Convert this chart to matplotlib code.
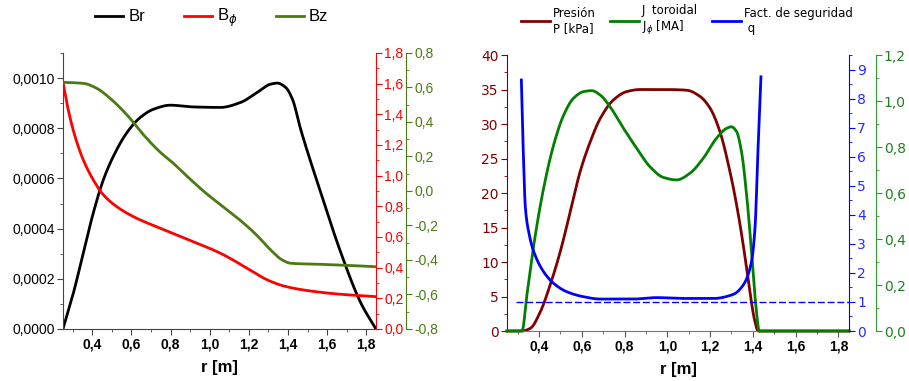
import numpy as np
import matplotlib
matplotlib.use("Agg")
import matplotlib.pyplot as plt
from matplotlib.ticker import MultipleLocator, FuncFormatter
from matplotlib.legend_handler import HandlerLine2D

# --- panel izquierdo: componentes del campo magnetico ---
r_br = [0.25, 0.303, 0.354, 0.405, 0.457, 0.508, 0.577, 0.645, 0.713, 0.799,
        0.918, 1.055, 1.158, 1.243, 1.312, 1.346, 1.388, 1.423, 1.465, 1.568,
        1.671, 1.773, 1.85]
br = [0.0, 0.000143, 0.000303, 0.000463, 0.000596, 0.000689, 0.000783, 0.000843,
      0.000876, 0.000892, 0.000885, 0.000883, 0.000903, 0.000943, 0.000976,
      0.00098, 0.000963, 0.000916, 0.000796, 0.000543, 0.000303, 0.000103, 0.0]

r_bphi = [0.25, 0.277, 0.312, 0.354, 0.405, 0.457, 0.525, 0.611, 0.747, 0.918,
          1.055, 1.192, 1.295, 1.38, 1.482, 1.654, 1.85]
bphi = [1.609, 1.428, 1.254, 1.102, 0.972, 0.874, 0.798, 0.732, 0.657, 0.569,
        0.494, 0.396, 0.320, 0.280, 0.254, 0.228, 0.211]

r_bz = [0.25, 0.354, 0.423, 0.491, 0.577, 0.662, 0.747, 0.807, 0.893, 0.979,
        1.065, 1.151, 1.236, 1.312, 1.371, 1.414, 1.568, 1.739, 1.85]
bz = [0.630, 0.624, 0.595, 0.537, 0.441, 0.325, 0.225, 0.168, 0.076, -0.011,
      -0.088, -0.165, -0.251, -0.342, -0.400, -0.419, -0.425, -0.433, -0.439]

# --- panel derecho: perfiles de plasma ---
r_p = [0.25, 0.32, 0.359, 0.406, 0.452, 0.499, 0.546, 0.592, 0.639, 0.686,
       0.748, 0.81, 0.873, 0.997, 1.09, 1.153, 1.2, 1.246, 1.293, 1.324,
       1.355, 1.386, 1.41, 1.425, 1.85]
presion = [0, 0, 0.39, 2.8, 6.7, 11.5, 17.3, 23.1, 27.4, 30.8, 33.5, 34.7, 35.0,
           35.0, 34.9, 34.0, 32.3, 28.9, 23.1, 18.3, 12.5, 5.7, 1.35, 0, 0]

r_j = [0.25, 0.32, 0.343, 0.375, 0.421, 0.468, 0.515, 0.561, 0.608, 0.647,
       0.686, 0.732, 0.795, 0.857, 0.919, 0.981, 1.044, 1.106, 1.168, 1.23,
       1.277, 1.30, 1.324, 1.347, 1.371, 1.394, 1.417, 1.43, 1.85]
j_tor = [0, 0, 0.157, 0.374, 0.62, 0.809, 0.939, 1.012, 1.041, 1.045, 1.026,
         0.975, 0.881, 0.794, 0.714, 0.668, 0.657, 0.686, 0.751, 0.838, 0.881,
         0.888, 0.867, 0.78, 0.591, 0.345, 0.084, 0, 0]

r_q = [0.317, 0.325, 0.336, 0.351, 0.375, 0.421, 0.468, 0.53, 0.608, 0.686,
       0.841, 0.95, 1.075, 1.215, 1.308, 1.355, 1.394, 1.41, 1.425, 1.438]
q = [8.64, 6.4, 4.22, 3.42, 2.73, 2.04, 1.64, 1.35, 1.18, 1.10, 1.10, 1.15,
     1.12, 1.12, 1.26, 1.58, 2.39, 3.53, 6.4, 8.75]

r_q1 = [0.29, 1.85]
q1 = [1.0, 1.0]


def suave(x, y, n=500):
    # interpolacion monotona por tramos (solo para dibujar la curva suave)
    x = np.asarray(x, float)
    y = np.asarray(y, float)
    xs = np.linspace(x[0], x[-1], n)
    h = np.diff(x)
    d = np.diff(y) / h
    m = np.zeros_like(y)
    m[0], m[-1] = d[0], d[-1]
    for i in range(1, len(y) - 1):
        if d[i - 1] * d[i] > 0:
            w1 = 2 * h[i] + h[i - 1]
            w2 = h[i] + 2 * h[i - 1]
            m[i] = (w1 + w2) / (w1 / d[i - 1] + w2 / d[i])
    k = np.clip(np.searchsorted(x, xs) - 1, 0, len(x) - 2)
    t = (xs - x[k]) / h[k]
    h00 = 2 * t**3 - 3 * t**2 + 1
    h10 = t**3 - 2 * t**2 + t
    h01 = -2 * t**3 + 3 * t**2
    h11 = t**3 - t**2
    ys = h00 * y[k] + h10 * h[k] * m[k] + h01 * y[k + 1] + h11 * h[k] * m[k + 1]
    return xs, ys


def coma(fmt):
    return FuncFormatter(lambda v, p: fmt.format(v + 0.0).replace('.', ','))


ARIAL = 'Liberation Sans'
rojo = '#ff0000'
oliva = '#4b7a12'
granate = '#800000'
verde = '#008000'
verde_eje = '#2e9a2e'
azul = '#0000ff'
PX = 72 / 100  # puntos por pixel

fig = plt.figure(figsize=(9.09, 3.81), dpi=100)

# ================= panel izquierdo =================
ax1 = fig.add_axes([0.0693, 0.1365, 0.3443, 0.7244])
ax1r = ax1.twinx()
ax1g = ax1.twinx()
ax1g.spines['right'].set_position(('outward', 30 * PX))

l_br, = ax1.plot(*suave(r_br, br), color='black', lw=2, label='Br')
l_bp, = ax1r.plot(*suave(r_bphi, bphi), color=rojo, lw=2, label=r'B$_\phi$')
l_bz, = ax1g.plot(*suave(r_bz, bz), color=oliva, lw=2, label='Bz')

ax1.set_xlim(0.25, 1.85)
ax1.set_ylim(0, 0.0011)
ax1r.set_ylim(0, 1.8)
ax1g.set_ylim(-0.8, 0.8)

for a in (ax1, ax1r, ax1g):
    a.spines['top'].set_visible(False)
ax1.spines['right'].set_visible(False)
ax1r.spines['left'].set_visible(False)
ax1g.spines['left'].set_visible(False)
ax1.spines['left'].set_color('#444444')
ax1.spines['bottom'].set_color('#444444')
ax1r.spines['right'].set_color(rojo)
ax1g.spines['right'].set_color(oliva)
ax1r.spines['bottom'].set_visible(False)
ax1g.spines['bottom'].set_visible(False)

ax1.xaxis.set_major_locator(MultipleLocator(0.2))
ax1.xaxis.set_minor_locator(MultipleLocator(0.1))
ax1.xaxis.set_major_formatter(coma('{:.1f}'))
ax1.yaxis.set_major_locator(MultipleLocator(0.0002))
ax1.yaxis.set_minor_locator(MultipleLocator(0.0001))
ax1.yaxis.set_major_formatter(coma('{:.4f}'))
ax1r.yaxis.set_major_locator(MultipleLocator(0.2))
ax1r.yaxis.set_minor_locator(MultipleLocator(0.1))
ax1r.yaxis.set_major_formatter(coma('{:.1f}'))
ax1g.yaxis.set_major_locator(MultipleLocator(0.2))
ax1g.yaxis.set_minor_locator(MultipleLocator(0.1))
ax1g.yaxis.set_major_formatter(coma('{:.1f}'))

ax1.tick_params(axis='x', which='both', colors='#444444', labelcolor='black')
ax1.tick_params(axis='y', which='both', colors='#444444', labelcolor='black')
ax1.tick_params(which='major', length=4, pad=2)
ax1.tick_params(which='minor', length=2)
ax1r.tick_params(axis='y', which='both', colors=rojo, pad=2)
ax1r.tick_params(which='major', length=4)
ax1r.tick_params(which='minor', length=2)
ax1g.tick_params(axis='y', which='both', colors=oliva, pad=2)
ax1g.tick_params(which='major', length=4)
ax1g.tick_params(which='minor', length=2)

for lab in ax1.get_xticklabels():
    lab.set_fontfamily(ARIAL)
    lab.set_fontweight('bold')
    lab.set_fontsize(10)
for a in (ax1, ax1r, ax1g):
    for lab in a.get_yticklabels():
        lab.set_fontfamily(ARIAL)
        lab.set_fontsize(10)
ax1.set_xlabel('r [m]', fontfamily=ARIAL, fontweight='bold', fontsize=12, labelpad=6)

fig.legend([l_br, l_bp, l_bz], ['Br', r'B$_\phi$', 'Bz'], loc='center',
           bbox_to_anchor=(0.233, 0.952), ncol=3, frameon=False,
           prop={'family': ARIAL, 'size': 12}, handlelength=1.7,
           handletextpad=0.3, columnspacing=2.3)

# ================= panel derecho =================
ax2 = fig.add_axes([0.5578, 0.1312, 0.3762, 0.7244])
ax2b = ax2.twinx()
ax2g = ax2.twinx()
ax2g.spines['right'].set_position(('outward', 27 * PX))

l_p, = ax2.plot(*suave(r_p, presion), color=granate, lw=2, clip_on=False)
l_j, = ax2g.plot(*suave(r_j, j_tor), color=verde, lw=2, clip_on=False)
l_q, = ax2b.plot(*suave(r_q, q), color=azul, lw=2)
ax2b.plot(r_q1, q1, color=azul, lw=1, ls=(0, (5, 2)))
ax2b.set_zorder(ax2g.get_zorder() + 1)
ax2b.patch.set_visible(False)

ax2.set_xlim(0.25, 1.85)
ax2.set_ylim(0, 40)
ax2b.set_ylim(0, 9.5)
ax2g.set_ylim(0, 1.2)

for a in (ax2, ax2b, ax2g):
    a.spines['top'].set_visible(False)
ax2.spines['right'].set_visible(False)
ax2b.spines['left'].set_visible(False)
ax2g.spines['left'].set_visible(False)
ax2b.spines['bottom'].set_visible(False)
ax2g.spines['bottom'].set_visible(False)
ax2.spines['left'].set_color(granate)
ax2.spines['bottom'].set_color('#777777')
ax2b.spines['right'].set_color(azul)
ax2g.spines['right'].set_color(verde_eje)

ax2.xaxis.set_major_locator(MultipleLocator(0.2))
ax2.xaxis.set_minor_locator(MultipleLocator(0.1))
ax2.xaxis.set_major_formatter(coma('{:.1f}'))
ax2.yaxis.set_major_locator(MultipleLocator(5))
ax2.yaxis.set_minor_locator(MultipleLocator(2.5))
ax2b.yaxis.set_major_locator(MultipleLocator(1))
ax2b.yaxis.set_minor_locator(MultipleLocator(0.5))
ax2g.yaxis.set_major_locator(MultipleLocator(0.2))
ax2g.yaxis.set_minor_locator(MultipleLocator(0.1))
ax2g.yaxis.set_major_formatter(coma('{:.1f}'))

ax2.tick_params(axis='x', which='both', colors='#555555', labelcolor='black')
ax2.tick_params(axis='y', which='both', colors=granate)
ax2.tick_params(which='major', length=4, pad=2)
ax2.tick_params(which='minor', length=2)
ax2b.tick_params(axis='y', which='both', colors=azul, labelcolor='#2a2aff', pad=2)
ax2b.tick_params(which='major', length=4)
ax2b.tick_params(which='minor', length=2)
ax2g.tick_params(axis='y', which='both', colors=verde_eje, labelcolor='#1f7f1f', pad=1.5)
ax2g.tick_params(which='major', length=4)
ax2g.tick_params(which='minor', length=2)

for lab in ax2.get_xticklabels():
    lab.set_fontfamily(ARIAL)
    lab.set_fontweight('bold')
    lab.set_fontsize(10)
for a in (ax2, ax2b, ax2g):
    for lab in a.get_yticklabels():
        lab.set_fontfamily('DejaVu Sans')
        lab.set_fontsize(10)
ax2.set_xlabel('r [m]', fontfamily=ARIAL, fontweight='bold', fontsize=12, labelpad=6)

arriba = HandlerLine2D(ypad=-1.3)
fig.legend([l_p, l_j, l_q],
           ['Presión\nP [kPa]', 'J  toroidal\nJ$_\\phi$ [MA]', 'Fact. de seguridad\n q'],
           loc='center', bbox_to_anchor=(0.756, 0.946), ncol=3, frameon=False,
           prop={'family': 'DejaVu Sans', 'size': 8.5}, handlelength=2.4,
           handletextpad=0.3, columnspacing=1.2, labelspacing=0.2,
           handler_map={l_p: arriba, l_j: arriba, l_q: arriba})

fig.savefig('out.png', dpi=100)
